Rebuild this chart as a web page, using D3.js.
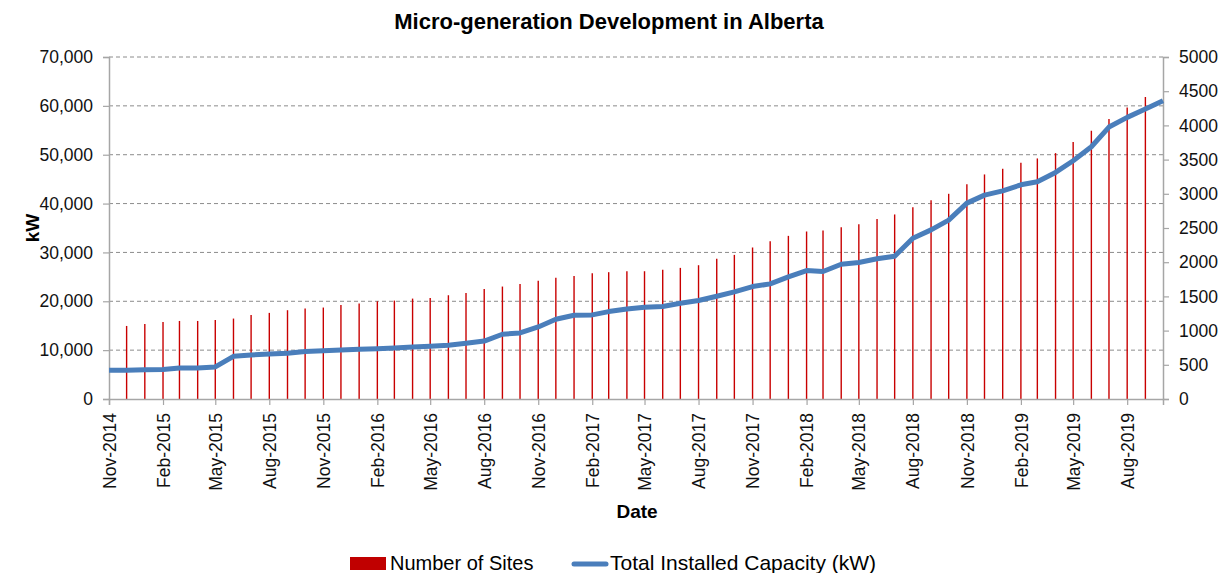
<!DOCTYPE html>
<html>
<head>
<meta charset="utf-8">
<script src="https://cdn.jsdelivr.net/npm/d3@7"></script>
<style>
  body { margin: 0; background: #fff; }
  svg { display: block; font-family: "Liberation Sans", Arial, sans-serif; }
</style>
</head>
<body>
<svg id="chart"></svg>
<script>
// line: monthly, Nov-2014 .. Oct-2019
const months = d3.timeMonth.range(new Date(2014, 10, 1), new Date(2019, 10, 1))
// bars: monthly, Dec-2014 .. Sep-2019 (end months sit under the axes)
const siteMonths = d3.timeMonth.range(new Date(2014, 11, 1), new Date(2019, 9, 1))

const sites = [
    1068,
    1098, 1127, 1141, 1141, 1156, 1176, 1229, 1259, 1298, 1322, 1337, 1376,
    1395, 1429, 1439, 1468, 1478, 1517, 1551, 1610, 1644, 1683, 1727, 1771,
    1800, 1839, 1854, 1868, 1868, 1888, 1917, 1956, 2049, 2107, 2215, 2307,
    2385, 2449, 2463, 2512, 2556, 2632, 2698, 2805, 2907, 3000, 3141, 3283,
    3366, 3454, 3517, 3595, 3756, 3922, 4093, 4263, 4415
]

const capacity = [
    5870, 5880,
    6010, 6020, 6350, 6360, 6560, 8740, 9010, 9220, 9360, 9700, 9900, 10040,
    10180, 10310, 10450, 10650, 10790, 11000, 11400, 11850, 13250, 13520, 14750, 16320,
    17140, 17210, 17890, 18440, 18780, 18920, 19600, 20150, 21030, 21920, 23010, 23560,
    24990, 26290, 26090, 27590, 27930, 28700, 29230, 32920, 34620, 36600, 40090, 41730,
    42610, 43840, 44460, 46370, 48760, 51630, 55660, 57640, 59340, 61050
]

const xTickLabels = [
    "Nov-2014", "Feb-2015", "May-2015", "Aug-2015", "Nov-2015", "Feb-2016", "May-2016",
    "Aug-2016", "Nov-2016", "Feb-2017", "May-2017", "Aug-2017", "Nov-2017", "Feb-2018",
    "May-2018", "Aug-2018", "Nov-2018", "Feb-2019", "May-2019", "Aug-2019"
]
const leftTicks = [0, 10000, 20000, 30000, 40000, 50000, 60000, 70000]
const rightTicks = [0, 500, 1000, 1500, 2000, 2500, 3000, 3500, 4000, 4500, 5000]

const W = 1229, H = 573
const m = {t: 57, b: 174, l: 109, r: 66}

const svg = d3.select("#chart")
    .attr("width", W)
    .attr("height", H)

const parseMonth = d3.timeParse("%b-%Y")

const x = d3.scaleTime()
    .domain([new Date(2014, 10, 1), new Date(2019, 9, 1)])
    .range([m.l, W - m.r])

const yL = d3.scaleLinear()
    .domain([0, 70000])
    .range([H - m.b, m.t])

const yR = d3.scaleLinear()
    .domain([0, 5000])
    .range([H - m.b, m.t])

const axisGrey = "#a6a6a6"

// gridlines
svg.append("g")
    .selectAll("line")
    .data(leftTicks.filter(d => d > 0))
    .join("line")
    .attr("x1", m.l)
    .attr("x2", W - m.r)
    .attr("y1", d => yL(d))
    .attr("y2", d => yL(d))
    .attr("stroke", "#8c8c8c")
    .attr("stroke-width", 1)
    .attr("stroke-dasharray", "4,3")

// bars (number of sites)
svg.append("g")
    .selectAll("line")
    .data(siteMonths)
    .join("line")
    .attr("x1", d => x(d))
    .attr("x2", d => x(d))
    .attr("y1", yR(0))
    .attr("y2", (d, i) => yR(sites[i]))
    .attr("stroke", "#c80000")
    .attr("stroke-width", 1.4)

// axes
const gL = svg.append("g")
    .attr("transform", `translate(${m.l},0)`)
    .call(d3.axisLeft(yL).tickValues(leftTicks).tickSize(6).tickPadding(10).tickFormat(d3.format(",")))

const gR = svg.append("g")
    .attr("transform", `translate(${W - m.r},0)`)
    .call(d3.axisRight(yR).tickValues(rightTicks).tickSize(6).tickPadding(10).tickFormat(d3.format("d")))

const gX = svg.append("g")
    .attr("transform", `translate(0,${H - m.b})`)
    .call(d3.axisBottom(x).tickValues(xTickLabels.map(parseMonth)).tickSize(6).tickFormat(d3.timeFormat("%b-%Y")))

for (const g of [gL, gR, gX]) {
    g.select(".domain").attr("stroke", axisGrey).attr("stroke-width", 1.5)
    g.selectAll(".tick line").attr("stroke", axisGrey).attr("stroke-width", 1.2)
    g.selectAll("text").attr("fill", "#111").style("font-size", "17.5px")
}

gX.selectAll(".tick text")
    .attr("text-anchor", "end")
    .attr("transform", "rotate(-90)")
    .attr("x", -14)
    .attr("y", 0)
    .attr("dy", "0.35em")

// capacity line
svg.append("path")
    .datum(months)
    .attr("fill", "none")
    .attr("stroke", "#4a7ebb")
    .attr("stroke-width", 5)
    .attr("stroke-linejoin", "round")
    .attr("d", d3.line()
        .x(d => x(d))
        .y((d, i) => yL(capacity[i])))

// titles
svg.append("text")
    .attr("x", 609)
    .attr("y", 29)
    .attr("text-anchor", "middle")
    .style("font-size", "22px")
    .style("font-weight", "bold")
    .text("Micro-generation Development in Alberta")

svg.append("text")
    .attr("transform", "translate(39,228) rotate(-90)")
    .attr("text-anchor", "middle")
    .style("font-size", "19px")
    .style("font-weight", "bold")
    .text("kW")

svg.append("text")
    .attr("x", 637)
    .attr("y", 518)
    .attr("text-anchor", "middle")
    .style("font-size", "19px")
    .style("font-weight", "bold")
    .text("Date")

// legend
const legend = svg.append("g")
legend.append("rect")
    .attr("x", 350).attr("y", 557)
    .attr("width", 36).attr("height", 13)
    .attr("fill", "#c00000")
legend.append("text")
    .attr("x", 390).attr("y", 570)
    .style("font-size", "20px")
    .text("Number of Sites")
legend.append("line")
    .attr("x1", 574).attr("x2", 606)
    .attr("y1", 564).attr("y2", 564)
    .attr("stroke", "#4a7ebb")
    .attr("stroke-width", 5)
    .attr("stroke-linecap", "round")
legend.append("text")
    .attr("x", 610).attr("y", 570)
    .style("font-size", "21px")
    .text("Total Installed Capacity (kW)")
</script>
</body>
</html>
